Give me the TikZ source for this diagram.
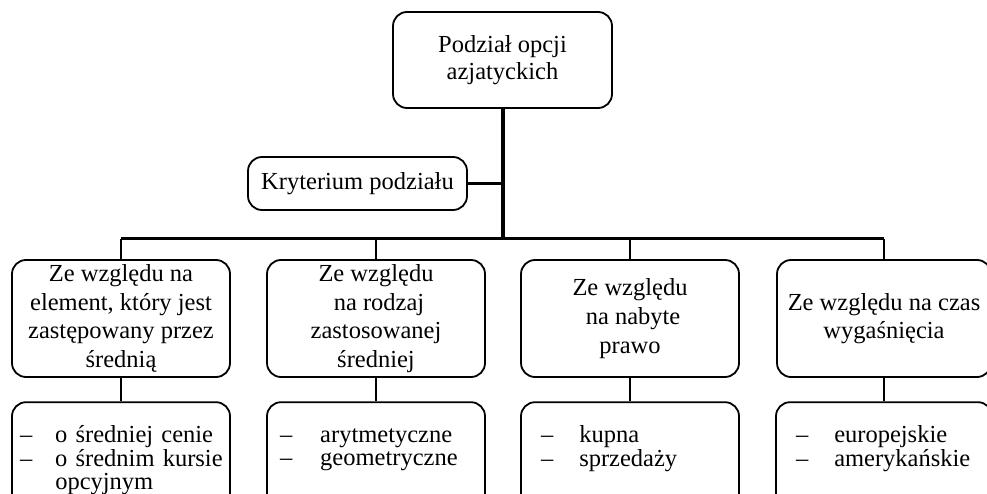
\documentclass[tikz,border=0pt]{standalone}
\usepackage{fontspec}
\setmainfont{Liberation Serif}
\usetikzlibrary{positioning}

\begin{document}
\begin{tikzpicture}[x=1pt,y=-1pt]

        % style
        \tikzstyle{box} = [rectangle, rounded corners=14pt, draw=black, line width=1.8pt, inner sep=0pt]
        \tikzstyle{root} = [box, minimum width=219pt, minimum height=96pt, align=center, font=\fontsize{24.5}{27}\selectfont]
        \tikzstyle{criterion} = [box, minimum width=219pt, minimum height=53pt, font=\fontsize{24.5}{27}\selectfont]
        \tikzstyle{kind} = [box, minimum width=218pt, minimum height=117pt, align=center, font=\fontsize{24.5}{28.7}\selectfont]
        \tikzstyle{list} = [box, inner xsep=2pt, text width=214pt, minimum height=117.6pt, align=left, font=\fontsize{24.5}{23.5}\selectfont]
        \tikzstyle{line} = [line width=2.2pt]
        \tikzstyle{trunk} = [line width=4pt]
        \tikzstyle{busline} = [line width=3pt]

        \clip (0,0) rectangle (987,494);

        % nodes
        \node (root) [root] at (502.5,60) {Podział opcji\\azjatyckich};
        \node (crit) [criterion] at (357.5,183.5) {Kryterium podziału};

        \node (k1) [kind] at (121,318.5) {Ze względu na\\element, który jest\\zastępowany przez\\średnią};
        \node (k2) [kind] at (376,318.5) {Ze względu\\\ na rodzaj\\zastosowanej\\średniej};
        \node (k3) [kind] at (630,318.5) {Ze względu\\\ na nabyte\\prawo};
        \node (k4) [kind, minimum width=214pt] at (884,318.5) {Ze względu na czas\\wygaśnięcia};

        \node (w1) [list] at (121,461) {\hspace*{6pt}\begin{tabular}{@{}l@{\hspace{23pt}}l@{}}
            – & o średniej cenie\\
            – & o średnim kursie\\
              & opcyjnym
        \end{tabular}};
        \node (w2) [list] at (376,461) {\hspace*{11pt}\begin{tabular}{@{}l@{\hspace{28pt}}l@{}}
            – & arytmetyczne\\
            – & geometryczne\\
              & \strut
        \end{tabular}};
        \node (w3) [list] at (630,461) {\hspace*{18pt}\begin{tabular}{@{}l@{\hspace{26pt}}l@{}}
            – & kupna\\
            – & sprzedaży\\
              & \strut
        \end{tabular}};
        \node (w4) [list, text width=212pt] at (884,461) {\hspace*{18pt}\begin{tabular}{@{}l@{\hspace{26pt}}l@{}}
            – & europejskie\\
            – & amerykańskie\\
              & \strut
        \end{tabular}};

        \coordinate (bus) at (503,239);

        % connections
        \draw [trunk] (root.south) -- (root.south |- bus);
        \draw [line] (crit.east) -- (crit.east -| bus);
        \draw [busline] (k1.north |- bus) -- (k4.north |- bus);
        \foreach \k in {k1,k2,k3,k4}
            \draw [line] (\k.north |- bus) -- (\k.north);
        \draw [line] (k1) -- (w1);
        \draw [line] (k2) -- (w2);
        \draw [line] (k3) -- (w3);
        \draw [line] (k4) -- (w4);

\end{tikzpicture}
\end{document}
